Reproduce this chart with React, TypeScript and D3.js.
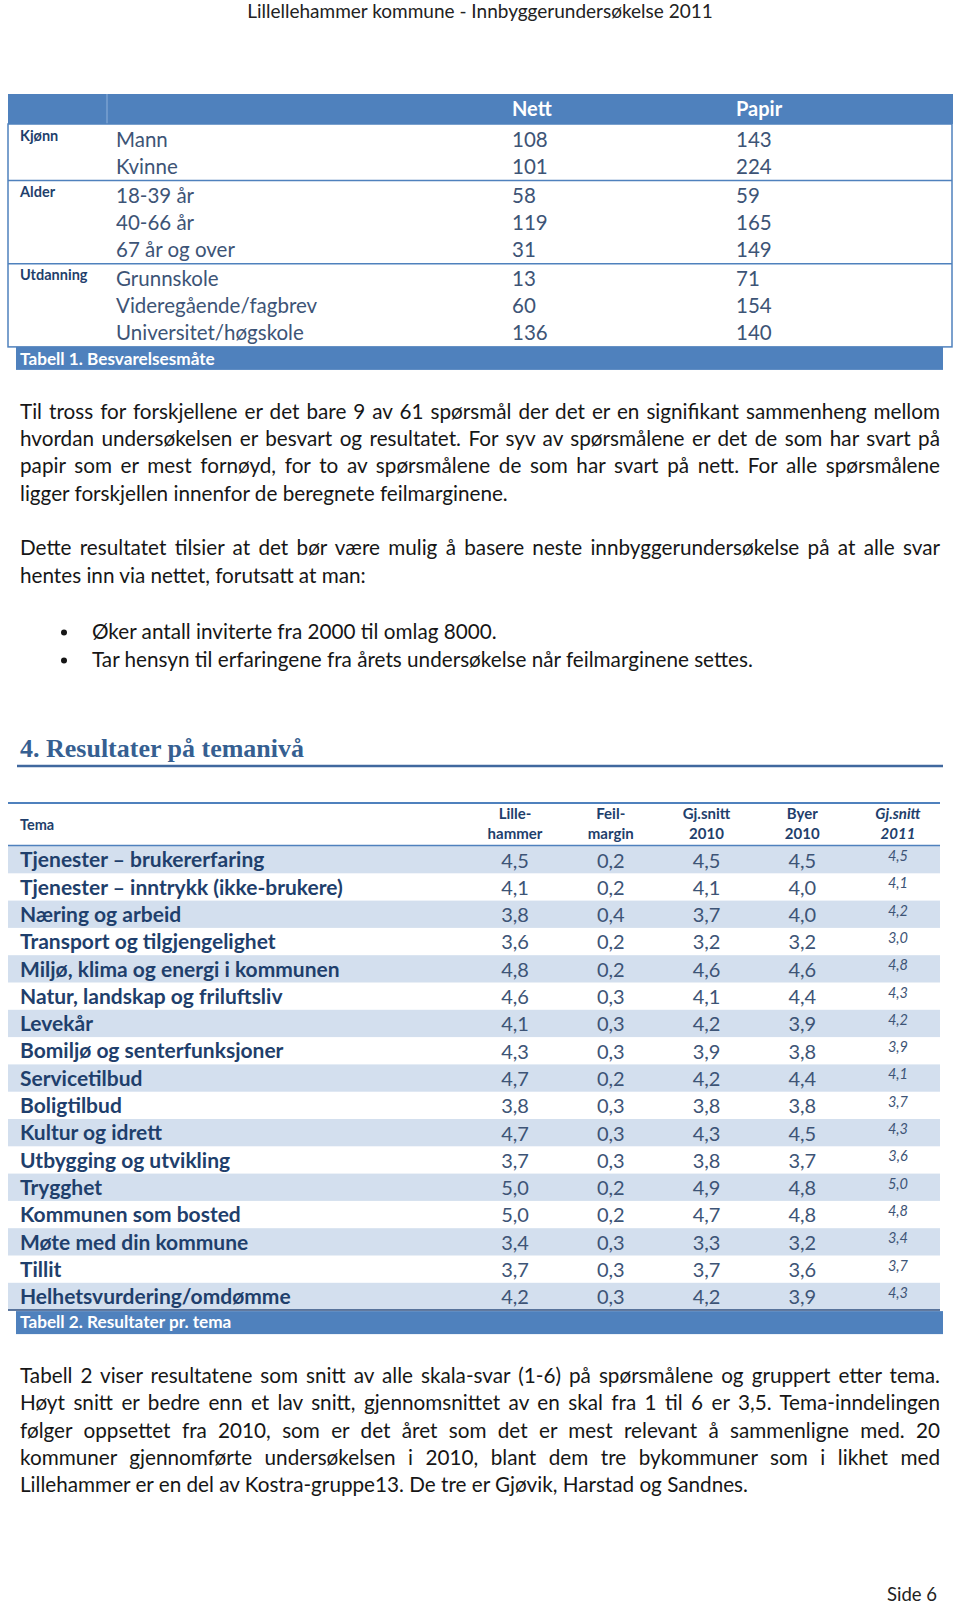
import React, { useEffect, useRef } from 'react';
import * as d3 from 'd3';

// ---- data ----
const pageTitle = 'Lillellehammer kommune - Innbyggerundersøkelse 2011';

const methodCols = ['Nett', 'Papir'];
const groups = ['Kjønn', 'Alder', 'Utdanning'];
const groupRows = [
  ['Mann', 'Kvinne'],
  ['18-39 år', '40-66 år', '67 år og over'],
  ['Grunnskole', 'Videregående/fagbrev', 'Universitet/høgskole'],
];
const nett = [108, 101, 58, 119, 31, 13, 60, 136];
const papir = [143, 224, 59, 165, 149, 71, 154, 140];
const caption1 = 'Tabell 1. Besvarelsesmåte';

const para1 = [
  'Til tross for forskjellene er det bare 9 av 61 spørsmål der det er en signifikant sammenheng mellom',
  'hvordan undersøkelsen er besvart og resultatet. For syv av spørsmålene er det de som har svart på',
  'papir som er mest fornøyd, for to av spørsmålene de som har svart på nett. For alle spørsmålene',
  'ligger forskjellen innenfor de beregnete feilmarginene.',
];
const para2 = [
  'Dette resultatet tilsier at det bør være mulig å basere neste innbyggerundersøkelse på at alle svar',
  'hentes inn via nettet, forutsatt at man:',
];
const bullets = [
  'Øker antall inviterte fra 2000 til omlag 8000.',
  'Tar hensyn til erfaringene fra årets undersøkelse når feilmarginene settes.',
];
const heading = '4. Resultater på temanivå';

const themes = [
  'Tjenester – brukererfaring',
  'Tjenester – inntrykk (ikke-brukere)',
  'Næring og arbeid',
  'Transport og tilgjengelighet',
  'Miljø, klima og energi i kommunen',
  'Natur, landskap og friluftsliv',
  'Levekår',
  'Bomiljø og senterfunksjoner',
  'Servicetilbud',
  'Boligtilbud',
  'Kultur og idrett',
  'Utbygging og utvikling',
  'Trygghet',
  'Kommunen som bosted',
  'Møte med din kommune',
  'Tillit',
  'Helhetsvurdering/omdømme',
];
const lillehammer = [4.5, 4.1, 3.8, 3.6, 4.8, 4.6, 4.1, 4.3, 4.7, 3.8, 4.7, 3.7, 5.0, 5.0, 3.4, 3.7, 4.2];
const feilmargin = [0.2, 0.2, 0.4, 0.2, 0.2, 0.3, 0.3, 0.3, 0.2, 0.3, 0.3, 0.3, 0.2, 0.2, 0.3, 0.3, 0.3];
const snitt2010 = [4.5, 4.1, 3.7, 3.2, 4.6, 4.1, 4.2, 3.9, 4.2, 3.8, 4.3, 3.8, 4.9, 4.7, 3.3, 3.7, 4.2];
const byer2010 = [4.5, 4.0, 4.0, 3.2, 4.6, 4.4, 3.9, 3.8, 4.4, 3.8, 4.5, 3.7, 4.8, 4.8, 3.2, 3.6, 3.9];
const snitt2011 = [4.5, 4.1, 4.2, 3.0, 4.8, 4.3, 4.2, 3.9, 4.1, 3.7, 4.3, 3.6, 5.0, 4.8, 3.4, 3.7, 4.3];
const colHeads = [
  ['Lille-', 'hammer'],
  ['Feil-', 'margin'],
  ['Gj.snitt', '2010'],
  ['Byer', '2010'],
  ['Gj.snitt', '2011'],
];
const caption2 = 'Tabell 2. Resultater pr. tema';

const para3 = [
  'Tabell 2 viser resultatene som snitt av alle skala-svar (1-6) på spørsmålene og gruppert etter tema.',
  'Høyt snitt er bedre enn et lav snitt, gjennomsnittet av en skal fra 1 til 6 er 3,5. Tema-inndelingen',
  'følger oppsettet fra 2010, som er det året som det er mest relevant å sammenligne med. 20',
  'kommuner gjennomførte undersøkelsen i 2010, blant dem tre bykommuner som i likhet med',
  'Lillehammer er en del av Kostra-gruppe13. De tre er Gjøvik, Harstad og Sandnes.',
];
const footer = 'Side 6';

const SANS = 'Lato, "Open Sans", sans-serif';
const BLUE = '#4F81BD';
const LIGHT = '#D3DFEE';
const NAVY = '#1F3F6C';
const SLATE = '#3D5476';
const BODY = 20.7;

const App = () => {
  const ref = useRef(null);

  useEffect(() => {
    const svg = d3.select(ref.current);
    svg.selectAll('*').remove();
    const fmt = d3.formatLocale({ decimal: ',', thousands: ' ', grouping: [3], currency: ['', ''] }).format('.1f');

    // justified text block
    const paragraph = (lines, x0, width, y0, step, size) => {
      const y = d3.scaleLinear().domain([0, 1]).range([y0, y0 + step]);
      lines.forEach((line, i) => {
        const t = svg.append('text')
          .attr('x', x0)
          .attr('y', y(i))
          .attr('font-family', SANS)
          .attr('font-size', size)
          .attr('fill', '#161616')
          .text(line);
        if (i < lines.length - 1) {
          const natural = t.node().getComputedTextLength();
          const spaces = (line.match(/ /g) || []).length;
          if (spaces) t.attr('word-spacing', (width - natural) / spaces);
        }
      });
    };

    // page header
    svg.append('text')
      .attr('x', 480).attr('y', 18)
      .attr('text-anchor', 'middle')
      .attr('font-family', SANS).attr('font-size', 19)
      .attr('fill', '#222')
      .text(pageTitle);

    // ---- table 1 ----
    const flatRows = groupRows.flatMap((rows, g) => rows.map((r, k) => ({ label: r, g, first: k === 0 })));
    const rowY = (i) => 146.5 + i * 27 + flatRows[i].g * 2.2;
    const colX = d3.scaleOrdinal().domain(methodCols).range([512, 736]);

    svg.append('rect').attr('x', 8).attr('y', 94).attr('width', 945).attr('height', 30).attr('fill', BLUE);
    svg.append('line').attr('x1', 107).attr('x2', 107).attr('y1', 94).attr('y2', 124)
      .attr('stroke', '#8FB0DA').attr('stroke-width', 1);
    methodCols.forEach((c) => {
      svg.append('text').attr('x', colX(c)).attr('y', 116)
        .attr('font-family', SANS).attr('font-size', 20).attr('font-weight', 700)
        .attr('fill', '#fff').text(c);
    });

    const lastY = rowY(flatRows.length - 1) + 7;
    svg.append('rect').attr('x', 8).attr('y', 124).attr('width', 944).attr('height', lastY - 124)
      .attr('fill', 'none').attr('stroke', BLUE).attr('stroke-width', 1.5);

    flatRows.forEach((r, i) => {
      const y = rowY(i);
      if (r.first) {
        svg.append('text').attr('x', 20).attr('y', y - 6)
          .attr('font-family', SANS).attr('font-size', 14.5).attr('font-weight', 700)
          .attr('fill', NAVY).text(groups[r.g]);
        if (i > 0) {
          svg.append('line').attr('x1', 8).attr('x2', 952).attr('y1', rowY(i - 1) + 7).attr('y2', rowY(i - 1) + 7)
            .attr('stroke', BLUE).attr('stroke-width', 1.5);
        }
      }
      svg.append('text').attr('x', 116).attr('y', y)
        .attr('font-family', SANS).attr('font-size', 20.5).attr('fill', SLATE).text(r.label);
      svg.append('text').attr('x', colX('Nett')).attr('y', y)
        .attr('font-family', SANS).attr('font-size', 20.5).attr('fill', SLATE).text(nett[i]);
      svg.append('text').attr('x', colX('Papir')).attr('y', y)
        .attr('font-family', SANS).attr('font-size', 20.5).attr('fill', SLATE).text(papir[i]);
    });

    svg.append('rect').attr('x', 16).attr('y', lastY).attr('width', 927).attr('height', 23).attr('fill', BLUE);
    svg.append('text').attr('x', 20).attr('y', lastY + 18)
      .attr('font-family', SANS).attr('font-size', 17.2).attr('font-weight', 700)
      .attr('fill', '#fff').text(caption1);

    // ---- paragraphs ----
    paragraph(para1, 20, 920, 419, 27.2, BODY);
    paragraph(para2, 20, 920, 555, 27.6, BODY);
    bullets.forEach((b, i) => {
      const y = 639 + i * 28;
      svg.append('circle').attr('cx', 64).attr('cy', y - 6.5).attr('r', 3).attr('fill', '#161616');
      svg.append('text').attr('x', 92).attr('y', y)
        .attr('font-family', SANS).attr('font-size', BODY).attr('fill', '#161616').text(b);
    });

    // heading
    svg.append('text').attr('x', 20).attr('y', 757)
      .attr('font-family', '"Liberation Serif", "DejaVu Serif", serif').attr('font-size', 26).attr('font-weight', 700)
      .attr('fill', '#365F91').text(heading);
    svg.append('line').attr('x1', 17).attr('x2', 943).attr('y1', 766).attr('y2', 766)
      .attr('stroke', '#40689E').attr('stroke-width', 2.5);

    // ---- table 2 ----
    const series = [lillehammer, feilmargin, snitt2010, byer2010, snitt2011];
    const colKeys = colHeads.map((_, i) => i);
    const x2 = d3.scalePoint().domain(colKeys).range([515, 898]);
    const y2 = d3.scaleBand().domain(themes).range([846, 846 + themes.length * 27.3]);

    svg.append('line').attr('x1', 8).attr('x2', 940).attr('y1', 803).attr('y2', 803)
      .attr('stroke', BLUE).attr('stroke-width', 2);
    svg.append('text').attr('x', 20).attr('y', 830)
      .attr('font-family', SANS).attr('font-size', 14.5).attr('font-weight', 700)
      .attr('fill', NAVY).text('Tema');
    colHeads.forEach((h, i) => {
      h.forEach((s, k) => {
        svg.append('text').attr('x', x2(i)).attr('y', 819 + k * 19.5)
          .attr('text-anchor', 'middle')
          .attr('font-family', SANS).attr('font-size', 15).attr('font-weight', 700)
          .attr('font-style', i === 4 ? 'italic' : 'normal')
          .attr('fill', NAVY).text(s);
      });
    });

    svg.selectAll('rect.band').data(themes.filter((_, i) => i % 2 === 0)).join('rect')
      .attr('class', 'band')
      .attr('x', 8).attr('y', (d) => y2(d))
      .attr('width', 932).attr('height', y2.bandwidth())
      .attr('fill', LIGHT);

    svg.append('line').attr('x1', 8).attr('x2', 940).attr('y1', 845.5).attr('y2', 845.5)
      .attr('stroke', BLUE).attr('stroke-width', 1.5);

    themes.forEach((t, r) => {
      const top = y2(t);
      svg.append('text').attr('x', 20).attr('y', top + 21.3)
        .attr('font-family', SANS).attr('font-size', 21).attr('font-weight', 700)
        .attr('fill', NAVY).text(t);
      series.forEach((s, c) => {
        const last = c === 4;
        svg.append('text').attr('x', x2(c)).attr('y', top + (last ? 15 : 21.5))
          .attr('text-anchor', 'middle')
          .attr('font-family', SANS).attr('font-size', last ? 14.5 : 20)
          .attr('font-style', last ? 'italic' : 'normal')
          .attr('fill', SLATE).text(fmt(s[r]));
      });
    });

    const bottom2 = 846 + themes.length * 27.3;
    svg.append('line').attr('x1', 8).attr('x2', 940).attr('y1', bottom2).attr('y2', bottom2)
      .attr('stroke', '#2F4F7F').attr('stroke-width', 1.5);
    svg.append('rect').attr('x', 16).attr('y', bottom2 + 1).attr('width', 927).attr('height', 23).attr('fill', BLUE);
    svg.append('text').attr('x', 20).attr('y', bottom2 + 18)
      .attr('font-family', SANS).attr('font-size', 17.2).attr('font-weight', 700)
      .attr('fill', '#fff').text(caption2);

    paragraph(para3, 20, 920, 1383, 27.3, BODY);

    svg.append('text').attr('x', 937).attr('y', 1601)
      .attr('text-anchor', 'end')
      .attr('font-family', SANS).attr('font-size', 18.5).attr('fill', '#222').text(footer);
  }, []);

  return (
    <svg
      ref={ref}
      width={960}
      height={1606}
      style={{ position: 'absolute', left: 0, top: 0, background: '#fff' }}
    />
  );
};

export default App;
